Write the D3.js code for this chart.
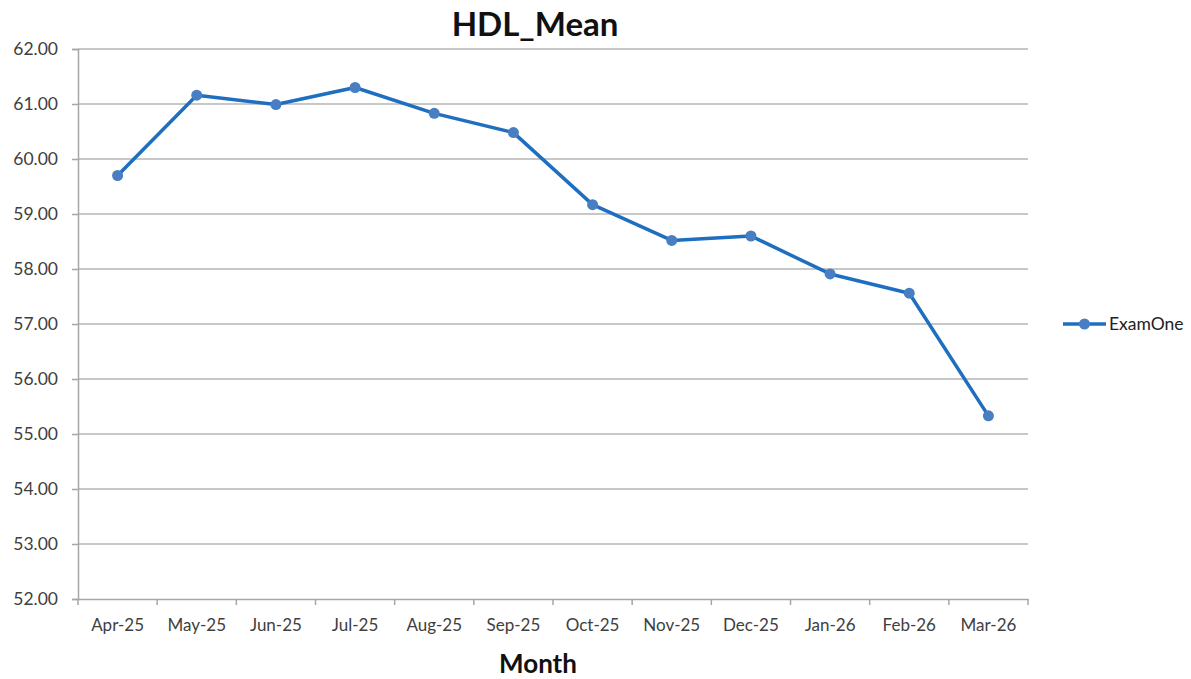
<!DOCTYPE html>
<html>
<head>
<meta charset="utf-8">
<script src="https://cdn.jsdelivr.net/npm/d3@7"></script>
<style>
  body { margin: 0; background: #fff; }
  svg text { font-family: Lato, "Open Sans", sans-serif; }
</style>
</head>
<body>
<div id="chart"></div>
<script>
const WIDTH = 1191, HEIGHT = 679;
const MARGIN = { top: 49, right: 163, bottom: 80, left: 78 }; // plot area 78..1028 x 49..599

// data
const months = ["Apr-25", "May-25", "Jun-25", "Jul-25", "Aug-25", "Sep-25",
    "Oct-25", "Nov-25", "Dec-25", "Jan-26", "Feb-26", "Mar-26"];
const hdlMean = [59.70, 61.16, 60.99, 61.30, 60.83, 60.48, 59.17, 58.52, 58.60, 57.91, 57.56, 55.33];
const yTicks = [52, 53, 54, 55, 56, 57, 58, 59, 60, 61, 62];
const seriesName = "ExamOne";
const LINE_COLOR = "#1f6fc0", DOT_COLOR = "#4a7ec2";

const svg = d3.select("#chart").append("svg")
    .attr("width", WIDTH)
    .attr("height", HEIGHT);

const x = d3.scaleBand()
    .domain(months)
    .range([MARGIN.left, WIDTH - MARGIN.right]);
const y = d3.scaleLinear()
    .domain([52, 62])
    .range([HEIGHT - MARGIN.bottom, MARGIN.top]);

// gridlines
svg.append("g")
    .selectAll("line")
    .data(yTicks.slice(1))
    .join("line")
    .attr("x1", MARGIN.left).attr("x2", WIDTH - MARGIN.right)
    .attr("y1", d => y(d)).attr("y2", d => y(d))
    .attr("stroke", "#b4b4b4")
    .attr("stroke-width", 1.5);

// y axis
const yAxis = svg.append("g")
    .attr("transform", `translate(${MARGIN.left},0)`)
    .call(d3.axisLeft(y).tickValues(yTicks).tickFormat(d3.format(".2f")).tickSize(6).tickPadding(14));
yAxis.select(".domain").attr("stroke", "#a6a6a6").attr("stroke-width", 1.5);
yAxis.selectAll(".tick line").attr("stroke", "#a6a6a6").attr("stroke-width", 1.5);
yAxis.selectAll("text").attr("font-size", 17.5).attr("fill", "#404040");

// x axis
const xAxis = svg.append("g")
    .attr("transform", `translate(0,${HEIGHT - MARGIN.bottom})`)
    .call(d3.axisBottom(x).tickSize(0).tickPadding(20));
xAxis.select(".domain").attr("stroke", "#a6a6a6").attr("stroke-width", 1.5);
xAxis.selectAll("text").attr("font-size", 17).attr("fill", "#404040");
// band boundary tick marks
svg.append("g")
    .selectAll("line")
    .data(months.concat(["end"]))
    .join("line")
    .attr("x1", (d, i) => i < months.length ? x(d) : x(months[months.length - 1]) + x.bandwidth())
    .attr("x2", (d, i) => i < months.length ? x(d) : x(months[months.length - 1]) + x.bandwidth())
    .attr("y1", HEIGHT - MARGIN.bottom)
    .attr("y2", HEIGHT - MARGIN.bottom + 6)
    .attr("stroke", "#a6a6a6")
    .attr("stroke-width", 1.5);

// line + markers
const points = months.map((m, i) => ({ m, v: hdlMean[i] }));
const cx = d => x(d.m) + x.bandwidth() / 2;
svg.append("path")
    .datum(points)
    .attr("fill", "none")
    .attr("stroke", LINE_COLOR)
    .attr("stroke-width", 3.5)
    .attr("stroke-linejoin", "round")
    .attr("d", d3.line().x(cx).y(d => y(d.v)));
svg.append("g")
    .selectAll("circle")
    .data(points)
    .join("circle")
    .attr("cx", cx)
    .attr("cy", d => y(d.v))
    .attr("r", 5.5)
    .attr("fill", DOT_COLOR);

// title and axis title
svg.append("text")
    .attr("x", 535).attr("y", 36)
    .attr("text-anchor", "middle")
    .attr("font-size", 33).attr("font-weight", "bold")
    .attr("fill", "#111")
    .text("HDL_Mean");
svg.append("text")
    .attr("x", 538).attr("y", 666)
    .attr("dominant-baseline", "middle")
    .attr("text-anchor", "middle")
    .attr("font-size", 26).attr("font-weight", "bold")
    .attr("fill", "#111")
    .text("Month");

// legend
const lg = svg.append("g").attr("transform", "translate(1063,324)");
lg.append("line").attr("x1", 0).attr("x2", 43).attr("stroke", LINE_COLOR).attr("stroke-width", 3.5);
lg.append("circle").attr("cx", 21.5).attr("r", 5.5).attr("fill", DOT_COLOR);
lg.append("text").attr("x", 46).attr("y", 6).attr("font-size", 17.5).attr("fill", "#222").text(seriesName);
</script>
</body>
</html>
